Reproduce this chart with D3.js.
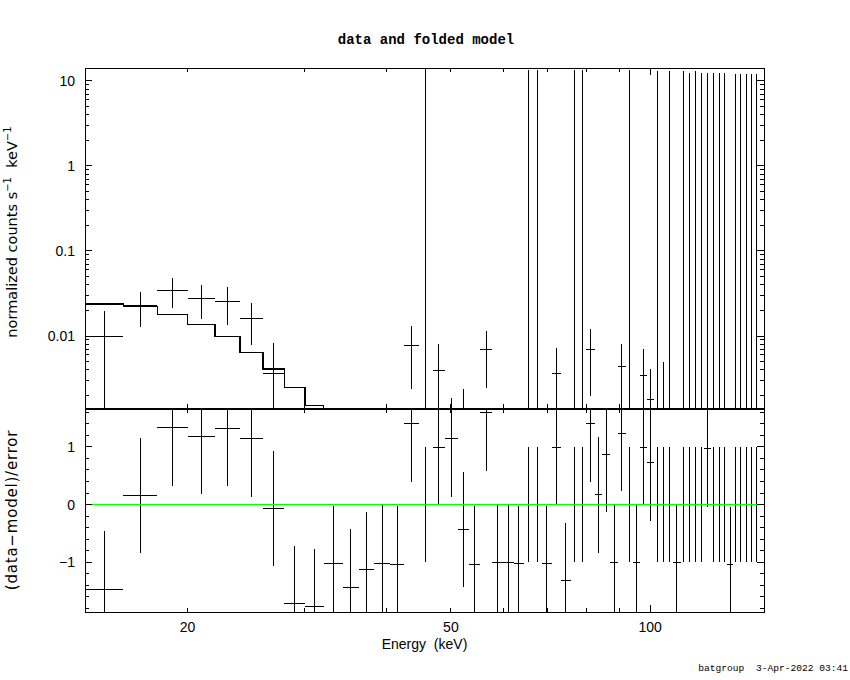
<!DOCTYPE html>
<html>
<head>
<meta charset="utf-8">
<script src="https://cdn.jsdelivr.net/npm/d3@7"></script>
<style>
  body { margin: 0; background: #fff; }
  svg text { fill: #000; }
</style>
</head>
<body>
<div id="chart"></div>
<script>
const WIDTH = 850;
const HEIGHT = 680;

// energy bin edges (keV)
const binEdges = [14, 16, 18, 20, 22, 24, 26, 28, 30.1, 32.1, 34.3, 36.3, 38.3,
  40.4, 42.5, 44.7, 46.9, 48.9, 51.2, 53.3, 55.4, 57.6, 59.8, 62.2, 64.4, 66.4,
  68.6, 71.0, 73.3, 75.8, 77.8, 80.1, 82.4, 84.7, 87.1, 89.4, 91.8, 94.1, 96.6,
  98.8, 101.4, 103.6, 106.0, 108.2, 111.2, 113.6, 115.9, 118.3, 120.6, 123.6,
  126.0, 128.5, 130.7, 133.5, 135.8, 138.5, 141.0, 143.6, 146.4];

// normalized counts s^-1 keV^-1 and its 1-sigma error
const rate = [0.0098, 0.0231, 0.0345, 0.0278, 0.0256, 0.0162, 0.00364, -0.004,
  -0.004, -0.003, -0.005, -0.004, -0.004, -0.004, 0.00777, 0, 0.00395, 0.00098,
  -0.001, -0.004, 0.00697, -0.005, -0.005, -0.005, 0, 0, -0.005, 0.00364, -0.006,
  0, 0, 0.00697, 0.0002, 0.0006, -0.005, 0.0044, 0, -0.005, 0.00345, 0.00177,
  0, 0, 0, -0.005, 0, 0, 0, 0, 0, 0, 0, 0, -0.005, 0, 0, 0, 0, 0];
const rateErr = [0.0099, 0.0102, 0.0134, 0.0120, 0.0120, 0.0083, 0.0047, 0.0038,
  0.0030, 0.0037, 0.0035, 0.0036, 0.0039, 0.0039, 0.0054, 13.8, 0.0041, 0.00087,
  0.0034, 0.0039, 0.0045, 0.005, 0.005, 0.005, 13.5, 13.5, 0.005, 0.0035, 0.0046,
  13.5, 13.5, 0.0050, 0.0011, 0.0007, 0.005, 0.0037, 13.5, 0.005, 0.0035, 0.0023,
  13.1, 0.00495, 13.1, 0.005, 13.1, 12.3, 13.1, 12.3, 12.3, 12.3, 12.3, 12.3,
  0.005, 12.0, 12.0, 12.0, 12.0, 12.0];

// folded model per bin
const model = [0.0238, 0.0224, 0.0180, 0.0137, 0.0098, 0.0064, 0.0041, 0.0025,
  0.00153, 0.00092, 0.00056, 0.00034, 0.00021, 0.00013, 0.00008, 0.00005,
  0.00003, 0.00002, 0.00001, 0.00001, 0.00001, 0.00001, 0.00001, 0.00001,
  0.00001, 0.00001, 0.00001, 0.00001, 0.00001, 0.00001, 0.00001, 0.00001,
  0.00001, 0.00001, 0.00001, 0.00001, 0.00001, 0.00001, 0.00001, 0.00001,
  0.00001, 0.00001, 0.00001, 0.00001, 0.00001, 0.00001, 0.00001, 0.00001,
  0.00001, 0.00001, 0.00001, 0.00001, 0.00001, 0.00001, 0.00001, 0.00001,
  0.00001, 0.00001];

// (data-model)/error
const resid = [-1.47, 0.16, 1.33, 1.18, 1.32, 1.14, -0.07, -1.72, -1.77, -1.02,
  -1.44, -1.13, -1.02, -1.04, 1.40, 0, 0.99, 1.14, -0.43, -1.04, 1.60, -1.0, -1.0,
  -1.02, 0, 0, -1.02, 0.99, -1.32, 0, 0, 1.40, 0.17, 0.87, -1.0, 1.23, 0, -1.0,
  0.99, 0.73, 0, 0, 0, -1.0, 0, 0, 0, 0, 0.97, 0, 0, 0, -1.04, 0, 0, 0, 0, 0];
const residErr = [1.01, 1.0, 1.01, 1.0, 1.0, 1.01, 1.0, 1.01, 1.0, 1.0, 1.01,
  1.01, 1.02, 1.01, 1.01, 1.0, 1.0, 1.01, 1.0, 1.01, 1.02, 1.0, 1.0, 1.0, 1.0,
  1.0, 1.0, 1.0, 1.0, 1.0, 1.0, 1.0, 1.01, 1.0, 1.0, 1.0, 1.0, 1.0, 1.0, 1.01,
  1.0, 1.0, 1.0, 1.0, 1.0, 1.0, 1.0, 1.0, 1.01, 1.0, 1.0, 1.0, 1.0, 1.0, 1.0,
  1.0, 1.0, 1.0];

// axis ticks and labels
const xTickValues = [20, 30, 40, 50, 60, 70, 80, 90, 100];
const xMajorTicks = [100];
const xLabelValues = [20, 50, 100];
const xLabels = ["20", "50", "100"];
const yTopLabelValues = [0.01, 0.1, 1, 10];
const yTopLabels = ["0.01", "0.1", "1", "10"];
const resTickValues = [-1.8, -1.6, -1.4, -1.2, -1, -0.8, -0.6, -0.4, -0.2, 0,
  0.2, 0.4, 0.6, 0.8, 1, 1.2, 1.4, 1.6];
const resLabelValues = [-1, 0, 1];
const resLabels = ["\u22121", "0", "1"];

const LEFT = 85, RIGHT = 764, TOP = 68, MID = 408, BOTTOM = 612;
const MAJOR = 7, MINOR = 4;
const FLOOR = 1e-7;
const SANS = "'Liberation Sans', Arial, sans-serif";
const WIDE = "'DejaVu Sans', 'Liberation Sans', sans-serif";
const MONO = "'Liberation Mono', 'Courier New', monospace";

let bins = rate.map((r, i) => ({
  lo: binEdges[i],
  hi: binEdges[i + 1],
  mid: (binEdges[i] + binEdges[i + 1]) / 2,
  rate: r,
  rateErr: rateErr[i],
  model: model[i],
  resid: resid[i],
  residErr: residErr[i]
}));

let x = d3.scaleLog().domain([14, 148.6]).range([LEFT, RIGHT]);
let yTop = d3.scaleLog().domain([0.001423, 14.2]).range([MID, TOP]);
let yRes = d3.scaleLinear().domain([-1.861, 1.674]).range([BOTTOM, MID]);

let svg = d3.select("#chart").append("svg")
  .attr("width", WIDTH)
  .attr("height", HEIGHT)
  .style("shape-rendering", "crispEdges");

svg.append("rect").attr("width", WIDTH).attr("height", HEIGHT).attr("fill", "#fff");

let defs = svg.append("defs");
defs.append("clipPath").attr("id", "clipTop").append("rect")
  .attr("x", LEFT).attr("y", TOP).attr("width", RIGHT - LEFT).attr("height", MID - TOP);
defs.append("clipPath").attr("id", "clipRes").append("rect")
  .attr("x", LEFT).attr("y", MID).attr("width", RIGHT - LEFT).attr("height", BOTTOM - MID);

// ---- top panel: data and folded model
let gTop = svg.append("g").attr("clip-path", "url(#clipTop)")
  .attr("stroke", "#000").attr("stroke-width", 1).attr("fill", "none");

gTop.selectAll("line.hbar")
  .data(bins.filter(d => d.rate > 0))
  .enter().append("line")
  .attr("x1", d => x(d.lo)).attr("x2", d => x(d.hi))
  .attr("y1", d => yTop(d.rate)).attr("y2", d => yTop(d.rate));

gTop.selectAll("line.vbar")
  .data(bins.filter(d => d.rate + d.rateErr > 0))
  .enter().append("line")
  .attr("x1", d => x(d.mid)).attr("x2", d => x(d.mid))
  .attr("y1", d => yTop(Math.max(d.rate - d.rateErr, FLOOR)))
  .attr("y2", d => yTop(d.rate + d.rateErr));

let steps = bins.flatMap(d => [[d.lo, d.model], [d.hi, d.model]]);
gTop.append("path")
  .attr("d", d3.line().x(p => x(p[0])).y(p => yTop(Math.max(p[1], FLOOR)))(steps))
  .attr("stroke-width", 1.3);

// ---- bottom panel: residuals
let gRes = svg.append("g").attr("clip-path", "url(#clipRes)")
  .attr("stroke", "#000").attr("stroke-width", 1);

gRes.selectAll("line.hbar")
  .data(bins)
  .enter().append("line")
  .attr("x1", d => x(d.lo)).attr("x2", d => x(d.hi))
  .attr("y1", d => yRes(d.resid)).attr("y2", d => yRes(d.resid));

gRes.selectAll("line.vbar")
  .data(bins)
  .enter().append("line")
  .attr("x1", d => x(d.mid)).attr("x2", d => x(d.mid))
  .attr("y1", d => yRes(d.resid - d.residErr))
  .attr("y2", d => yRes(d.resid + d.residErr));

svg.append("line")
  .attr("x1", LEFT).attr("x2", RIGHT)
  .attr("y1", yRes(0)).attr("y2", yRes(0))
  .attr("stroke", "#00ff00").attr("stroke-width", 1);

// ---- frames and ticks
let axes = svg.append("g").attr("stroke", "#000").attr("stroke-width", 1).attr("fill", "none");
axes.append("rect").attr("x", LEFT).attr("y", TOP)
  .attr("width", RIGHT - LEFT).attr("height", MID - TOP);
axes.append("rect").attr("x", LEFT).attr("y", MID + 1)
  .attr("width", RIGHT - LEFT).attr("height", BOTTOM - MID - 1);

function xTicks(yEdge, dir) {
  axes.append("g").selectAll("line")
    .data(xTickValues)
    .enter().append("line")
    .attr("x1", d => x(d)).attr("x2", d => x(d))
    .attr("y1", yEdge)
    .attr("y2", d => yEdge + dir * (xMajorTicks.includes(d) ? MAJOR : MINOR));
}
xTicks(TOP, 1);
xTicks(MID, -1);
xTicks(MID + 1, 1);
xTicks(BOTTOM, -1);

function yTicks(scale, values, isMajor) {
  [[LEFT, 1], [RIGHT, -1]].forEach(([xEdge, dir]) => {
    axes.append("g").selectAll("line")
      .data(values)
      .enter().append("line")
      .attr("x1", xEdge)
      .attr("x2", d => xEdge + dir * (isMajor(d) ? MAJOR : MINOR))
      .attr("y1", d => scale(d)).attr("y2", d => scale(d));
  });
}
yTicks(yTop, yTop.ticks().filter(v => v >= yTop.domain()[0] && v <= yTop.domain()[1]),
  v => Math.abs(Math.log10(v) - Math.round(Math.log10(v))) < 1e-6);
yTicks(yRes, resTickValues, v => Math.abs(v - Math.round(v)) < 1e-6);

// ---- text
let txt = svg.append("g").style("font-family", SANS).style("font-size", "14px");

txt.selectAll("text.xl")
  .data(xLabelValues)
  .enter().append("text")
  .attr("x", d => x(d)).attr("y", 632)
  .attr("text-anchor", "middle")
  .text((d, i) => xLabels[i]);

txt.selectAll("text.yl")
  .data(yTopLabelValues)
  .enter().append("text")
  .attr("x", 75).attr("y", d => yTop(d) + 5)
  .attr("text-anchor", "end")
  .text((d, i) => yTopLabels[i]);

txt.selectAll("text.rl")
  .data(resLabelValues)
  .enter().append("text")
  .attr("x", 75).attr("y", d => yRes(d) + 5)
  .attr("text-anchor", "end")
  .text((d, i) => resLabels[i]);

txt.append("text")
  .attr("x", (LEFT + RIGHT) / 2).attr("y", 649)
  .attr("text-anchor", "middle")
  .attr("xml:space", "preserve")
  .text("Energy  (keV)");

let yl = txt.append("text")
  .attr("transform", "translate(17,232) rotate(-90)")
  .attr("text-anchor", "middle")
  .attr("xml:space", "preserve")
  .style("font-family", WIDE).style("font-size", "14.5px");
yl.append("tspan").text("normalized counts s");
yl.append("tspan").attr("dy", -6).style("font-size", "10px").text("\u22121");
yl.append("tspan").attr("dy", 6).text("  keV");
yl.append("tspan").attr("dy", -6).style("font-size", "10px").text("\u22121");

txt.append("text")
  .attr("transform", `translate(17,${(MID + BOTTOM) / 2}) rotate(-90)`)
  .attr("text-anchor", "middle")
  .style("font-family", WIDE).style("font-size", "15px")
  .style("letter-spacing", "0.8px")
  .text("(data\u2212model)/error");

svg.append("text")
  .attr("x", 426).attr("y", 44)
  .attr("text-anchor", "middle")
  .style("font-family", MONO).style("font-size", "14px").style("font-weight", "bold")
  .text("data and folded model");

svg.append("text")
  .attr("x", 848).attr("y", 671)
  .attr("text-anchor", "end")
  .attr("xml:space", "preserve")
  .style("font-family", MONO).style("font-size", "9.6px")
  .text("batgroup  3-Apr-2022 03:41");
</script>
</body>
</html>
